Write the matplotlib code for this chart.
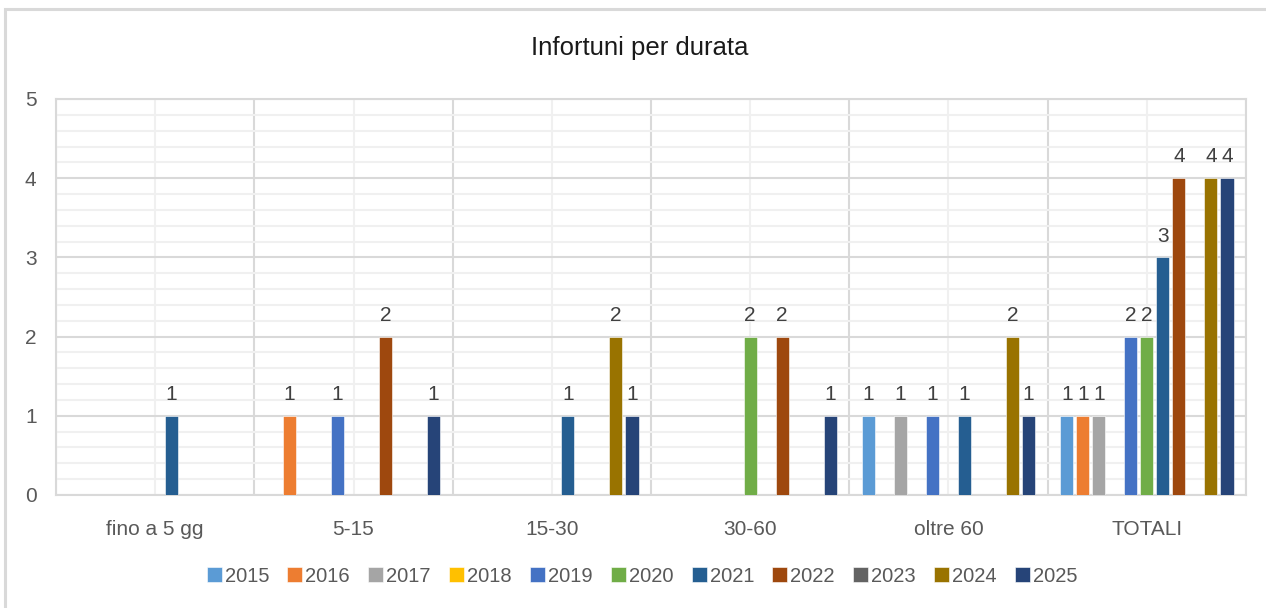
import matplotlib
matplotlib.use("Agg")
import matplotlib.pyplot as plt
from matplotlib import font_manager
from matplotlib.patches import Rectangle
import numpy as np

categories = ["fino a 5 gg", "5-15", "15-30", "30-60", "oltre 60", "TOTALI"]
years = ["2015", "2016", "2017", "2018", "2019", "2020", "2021", "2022", "2023", "2024", "2025"]
colors = ["#5B9BD5", "#ED7D31", "#A5A5A5", "#FFC000", "#4472C4", "#70AD47",
          "#255E91", "#9E480E", "#636363", "#997300", "#264478"]

v2015 = [0, 0, 0, 0, 1, 1]
v2016 = [0, 1, 0, 0, 0, 1]
v2017 = [0, 0, 0, 0, 1, 1]
v2018 = [0, 0, 0, 0, 0, 0]
v2019 = [0, 1, 0, 0, 1, 2]
v2020 = [0, 0, 0, 2, 0, 2]
v2021 = [1, 0, 1, 0, 1, 3]
v2022 = [0, 2, 0, 2, 0, 4]
v2023 = [0, 0, 0, 0, 0, 0]
v2024 = [0, 0, 2, 0, 2, 4]
v2025 = [0, 1, 1, 1, 1, 4]
series = [v2015, v2016, v2017, v2018, v2019, v2020, v2021, v2022, v2023, v2024, v2025]

names = {f.name for f in font_manager.fontManager.ttflist}
main_font = "Liberation Sans" if "Liberation Sans" in names else "DejaVu Sans"
narrow_font = "Liberation Sans Narrow" if "Liberation Sans Narrow" in names else main_font
plt.rcParams["font.family"] = [main_font, "DejaVu Sans"]

W, H = 1266, 608
fig = plt.figure(figsize=(W / 100, H / 100), dpi=100)
fig.patches.append(Rectangle((5 / W, -0.1), 1.2, 1 - 9 / H + 0.1, transform=fig.transFigure,
                             fill=False, edgecolor="#d9d9d9", linewidth=2.2, zorder=0))

ax = fig.add_axes([56 / W, (H - 495) / H, (1246 - 56) / W, (495 - 99) / H])

n = len(categories)
slot = 0.0808
bw = 0.066
x = np.arange(n)
for i, (yr, vals, c) in enumerate(zip(years, series, colors)):
    off = (i - 5) * slot
    xs = x + off
    ax.bar(xs, vals, width=bw, color=c, label=yr, zorder=3, edgecolor="white", linewidth=0.4)
    for xi, v in zip(xs, vals):
        if v:
            ax.text(xi, v + 0.15, str(v), ha="center", va="bottom", fontsize=15,
                    color="#404040", zorder=4)

ax.set_xlim(-0.5, n - 0.5)
ax.set_ylim(0, 5)
ax.set_yticks(range(0, 6))
ax.set_yticks(np.arange(0, 5.01, 0.2), minor=True)
ax.set_xticks(x)
ax.set_xticklabels(categories)
ax.set_xticks(np.arange(-0.5, n, 1.0), minor=True)

ax.grid(axis="y", which="major", color="#d9d9d9", linewidth=1.5, zorder=1)
ax.grid(axis="y", which="minor", color="#f0f0f0", linewidth=1.5, zorder=0.5)
ax.grid(axis="x", which="minor", color="#d9d9d9", linewidth=1.5, zorder=1)
ax.grid(axis="x", which="major", color="#f0f0f0", linewidth=1.5, zorder=0.5)
ax.set_axisbelow(True)

for s in ax.spines.values():
    s.set_color("#d9d9d9")
    s.set_linewidth(1.5)

ax.tick_params(axis="both", which="both", length=0, labelsize=15, labelcolor="#595959")
ax.tick_params(axis="y", pad=14)
ax.tick_params(axis="x", pad=18)

fig.text(640 / W, 1 - 48 / H, "Infortuni per durata", ha="center", va="center",
         fontsize=18.5, color="#1a1a1a")

leg = fig.legend(loc="center", bbox_to_anchor=(642 / W, 1 - 576 / H), ncol=11, frameon=False,
                 handlelength=0.75, handleheight=0.75, handletextpad=0.15, columnspacing=0.9,
                 prop={"family": narrow_font, "size": 14.5})
for t in leg.get_texts():
    t.set_color("#595959")

fig.savefig("out.png", dpi=100)
